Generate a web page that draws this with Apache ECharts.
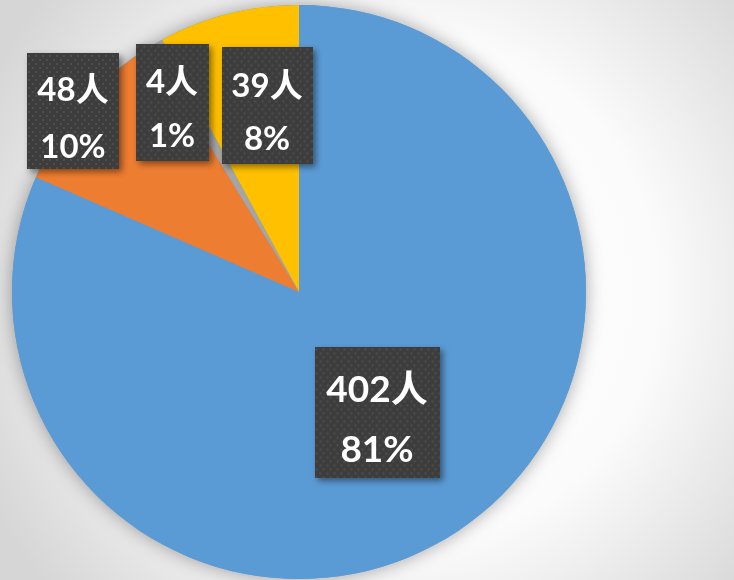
<!DOCTYPE html>
<html>
<head>
<meta charset="utf-8">
<script src="https://cdn.jsdelivr.net/npm/echarts@6/dist/echarts.min.js"></script>
<style>
  html, body { margin: 0; padding: 0; }
  #main { width: 734px; height: 580px; }
</style>
</head>
<body>
<div id="main"></div>
<script>
var categories = ['类别一', '类别二', '类别三', '类别四'];
var counts = [402, 48, 4, 39];
var colors = ['#5B9BD5', '#ED7D31', '#A5A5A5', '#FFC000'];

// label box layout: center x, center y, width, height, font size,
// line 1 centre and line 2 centre measured from the box top
var boxes = [
    [377, 412, 125, 131, 37, 44, 104],
    [73, 111, 92, 116, 33, 37, 94],
    [172, 102, 73, 117, 33, 39, 93],
    [267, 105, 91, 117, 33, 40, 93]
];

// dotted dark texture for the label boxes
function dotted(w, h) {
    var c = document.createElement('canvas');
    c.width = w; c.height = h;
    var ctx = c.getContext('2d');
    ctx.fillStyle = '#3d3d3d';
    ctx.fillRect(0, 0, w, h);
    ctx.fillStyle = '#4e4e4e';
    for (var y = 2, row = 0; y < h; y += 4, row++) {
        for (var x = (row % 2 ? 5 : 1); x < w; x += 7) {
            ctx.fillRect(x, y, 2, 2);
        }
    }
    return c;
}

var data = categories.map(function (name, i) {
    var b = boxes[i];
    var l1 = b[5] * 2;
    var l2 = (b[6] - l1) * 2;
    return {
        name: name,
        value: counts[i],
        itemStyle: { color: colors[i] },
        label: {
            width: b[2],
            padding: [0, 0, b[3] - l1 - l2, 0],
            backgroundColor: { image: dotted(b[2], b[3]) },
            rich: {
                t: { fontSize: b[4], lineHeight: l1 },
                p: { fontSize: b[4], lineHeight: l2 }
            }
        }
    };
});

var chart = echarts.init(document.getElementById('main'));
chart.setOption({
    backgroundColor: {
        type: 'radial', x: 0.55, y: 0.5, r: 0.8,
        colorStops: [
            { offset: 0, color: '#ffffff' },
            { offset: 0.55, color: '#fbfbfb' },
            { offset: 1, color: '#d6d6d6' }
        ]
    },
    animation: false,
    series: [{
        type: 'pie',
        silent: true,
        center: [299, 292],
        radius: 287,
        z: 1,
        label: { show: false },
        itemStyle: { color: '#5B9BD5', shadowBlur: 18, shadowColor: 'rgba(0,0,0,0.35)' },
        data: [1]
    }, {
        type: 'pie',
        z: 2,
        center: [299, 292],
        radius: 287,
        startAngle: 90,
        clockwise: true,
        percentPrecision: 0,
        label: {
            show: true,
            position: 'inside',
            formatter: function (p) {
                return '{t|' + p.value + '人}\n{p|' + p.percent + '%}';
            },
            color: '#ffffff',
            fontWeight: 'bold',
            fontFamily: 'Lato, "Noto Sans CJK SC", sans-serif',
            align: 'center',
            shadowColor: 'rgba(0,0,0,0.45)',
            shadowBlur: 6,
            shadowOffsetX: 3,
            shadowOffsetY: 3
        },
        labelLine: { show: false },
        labelLayout: function (params) {
            var b = boxes[params.dataIndex];
            return { x: b[0], y: b[1], align: 'center', verticalAlign: 'middle' };
        },
        data: data
    }]
});
</script>
</body>
</html>
